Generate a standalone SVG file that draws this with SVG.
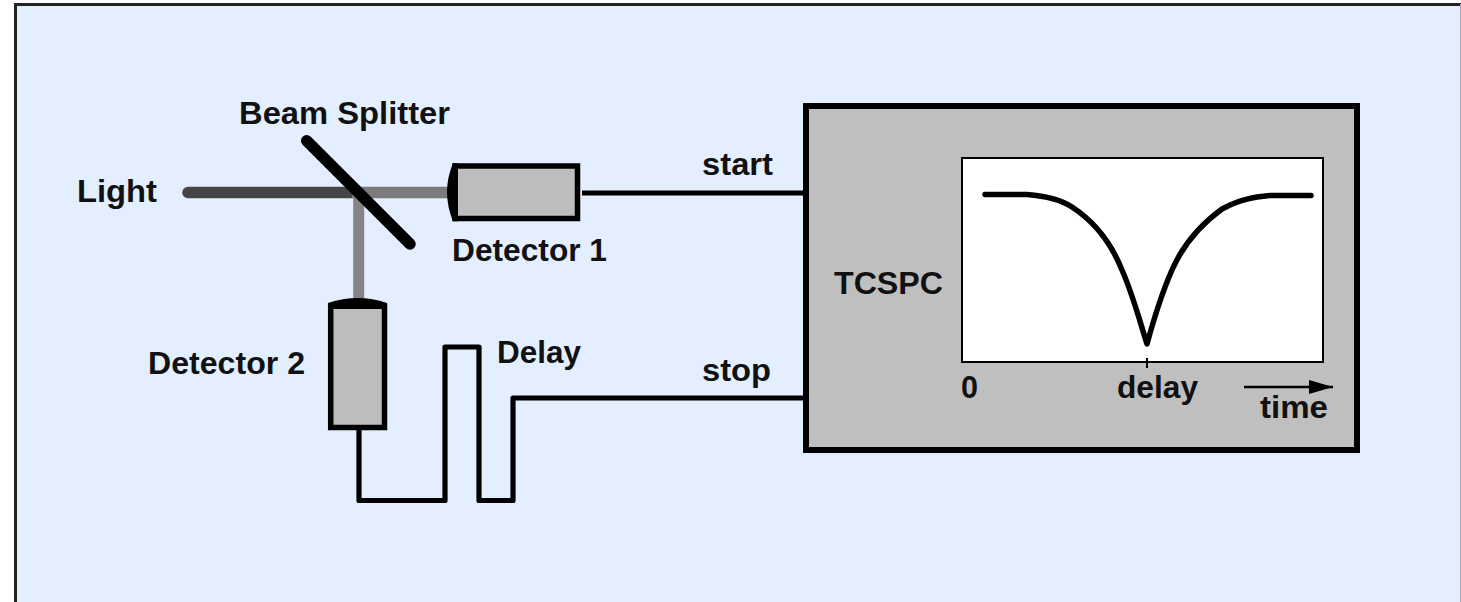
<svg xmlns="http://www.w3.org/2000/svg" width="1461" height="602" viewBox="0 0 1461 602">
<defs>
<style>
text{font-family:"Liberation Sans",Arial,sans-serif;font-weight:bold;font-size:32px;fill:#111}
.det{fill:#bdbdbd;stroke:#000;stroke-width:5.5}
.wire{fill:none;stroke:#000;stroke-width:5.2;stroke-linejoin:round}
</style>
<marker id="arr" markerUnits="userSpaceOnUse" markerWidth="24" markerHeight="14" refX="24" refY="7" orient="auto"><path d="M0 0L24 7L0 14Z" fill="#000"/></marker>
</defs>
<rect id="background" x="15" y="4" width="1446" height="598" fill="#e3eeff"/>
<path id="frame" d="M15.500 602V4.500H1461" fill="none" stroke="#222" stroke-width="3"/>
<path id="frame-right" d="M1460.500 4V602" fill="none" stroke="#aab" stroke-width="1"/>
<g id="connectors">
<path d="M188 192.500H352" stroke="#454545" stroke-width="11.500" stroke-linecap="round" fill="none"/>
<path d="M352 192.500H450" stroke="#7b7b7b" stroke-width="11.500" fill="none"/>
<path d="M358.700 198V300" stroke="#858585" stroke-width="11" fill="none"/>
<path class="wire" d="M582 193H806"/>
<path class="wire" d="M359 428V500.500H445V347H479V500.500H513V398H806"/>
</g>
<g id="beam-splitter"><path d="M306.700 140.700L410 244" stroke="#000" stroke-width="11.500" stroke-linecap="round"/><text x="239" y="123.500" textLength="211" lengthAdjust="spacingAndGlyphs">Beam Splitter</text></g>
<g id="light"><text x="77" y="201.500" textLength="80" lengthAdjust="spacingAndGlyphs">Light</text></g>
<g id="detector-1"><rect class="det" x="455" y="166" width="122.500" height="52.500"/><path d="M458 163.300H453Q441 192 453 221.200H458Z" fill="#000"/><text x="452" y="260.500" textLength="155" lengthAdjust="spacingAndGlyphs">Detector 1</text></g>
<g id="detector-2"><rect class="det" x="330.700" y="306" width="53.800" height="121.500"/><path d="M328 309V303Q358 293 387 303V309Z" fill="#000"/><text x="148" y="373.500" textLength="157" lengthAdjust="spacingAndGlyphs">Detector 2</text></g>
<g id="delay"><text x="497" y="362.500" textLength="84" lengthAdjust="spacingAndGlyphs">Delay</text></g>
<g id="start"><text x="702" y="174.500" textLength="71" lengthAdjust="spacingAndGlyphs">start</text></g>
<g id="stop"><text x="702" y="380.500" textLength="69" lengthAdjust="spacingAndGlyphs">stop</text></g>
<g id="tcspc">
<rect x="806" y="106" width="551" height="344" fill="#bfbfbf" stroke="#000" stroke-width="6"/>
<text x="834" y="293.500" textLength="109" lengthAdjust="spacingAndGlyphs">TCSPC</text>
<rect x="962" y="158" width="361" height="204" fill="#fff" stroke="#000" stroke-width="2"/>
<path d="M985 194.500H1027C1045 196 1060 199 1072 207C1095 222 1112 245 1122 270C1133 295 1140 322 1147 344C1153 322 1161 295 1172 270C1183 245 1200 225 1222 209C1240 199 1255 197 1270 195.500H1311" fill="none" stroke="#000" stroke-width="5.500" stroke-linecap="round" stroke-linejoin="round"/>
<path d="M1147 358V368" stroke="#000" stroke-width="2"/>
<text x="961" y="397.500" textLength="17" lengthAdjust="spacingAndGlyphs">0</text>
<text x="1117" y="397.500" textLength="81" lengthAdjust="spacingAndGlyphs">delay</text>
<path d="M1244 387H1333" stroke="#000" stroke-width="2.500" marker-end="url(#arr)"/>
<text x="1260" y="417.500" textLength="68" lengthAdjust="spacingAndGlyphs">time</text>
</g>
</svg>
